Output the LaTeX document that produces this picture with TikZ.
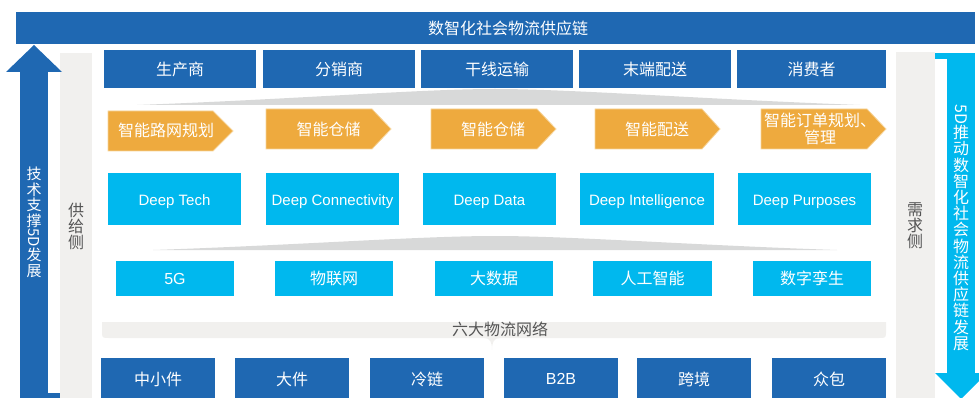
\documentclass[tikz,border=0pt]{standalone}
\usepackage{fontspec}
\setmainfont{Liberation Sans}
\newfontfamily\cjk{Noto Sans CJK SC}
\usepackage{graphicx}
\definecolor{dblue}{HTML}{1F68B2}
\definecolor{lblue}{HTML}{00B8EE}
\definecolor{orng}{HTML}{EEAA3E}
\definecolor{orngline}{HTML}{F6D49A}
\definecolor{panel}{HTML}{F1F0EE}
\definecolor{band}{HTML}{D8D9D9}
\definecolor{gtext}{HTML}{555555}
\tikzset{
  dbox/.style={fill=dblue, text=white, inner sep=0, font=\cjk\fontsize{16}{18}\selectfont},
  lbox/.style={fill=lblue, text=white, inner sep=0, font=\cjk\fontsize{16}{18}\selectfont},
  deepbox/.style={fill=lblue, text=white, inner sep=0, minimum width=133, minimum height=52, font=\fontsize{15}{17}\selectfont},
  otext/.style={text=white, inner sep=0, align=center, font=\cjk\fontsize{16}{17}\selectfont},
  chev/.style={fill=orng, draw=orngline, line width=0.8},
  vtext/.style={inner sep=0, align=center},
  sidetext/.style={text=gtext, inner sep=0, align=center, font=\cjk\fontsize{16}{16}\selectfont},
}
\begin{document}
\begin{tikzpicture}[x=1pt,y=-1pt]
\useasboundingbox (0,0) rectangle (979,398);
\clip (0,0) rectangle (979,398);

% top banner
\fill[dblue] (16,12) rectangle (975,44);
\node[text=white, inner sep=0, font=\cjk\fontsize{16}{18}\selectfont] (title) at (508,28) {数智化社会物流供应链};

% side panels
\fill[panel] (60,53) rectangle (92,398);
\fill[panel] (896,52) rectangle (935,398);
\node[sidetext] (supply) at (76,226) {供\\给\\侧};
\node[sidetext] (demand) at (915,225.5) {需\\求\\侧};

% left up arrow
\fill[dblue] (20,72) rectangle (48,398);
\fill[dblue] (48,393) rectangle (60,398);
\fill[dblue] (6,72) -- (34,45) -- (62,72) -- cycle;
\node[vtext, text=white, font=\cjk\fontsize{15}{15.5}\selectfont] (ltext) at (34,222.5)
  {技\\术\\支\\撑\\\rotatebox[origin=c]{-90}{5D}\\发\\展};

% right down arrow
\fill[lblue] (947,53) rectangle (975,373);
\fill[lblue] (935,53) rectangle (947,59);
\fill[lblue] (935,373) -- (987,373) -- (961,399) -- cycle;
\node[vtext, text=white, font=\cjk\fontsize{16}{16.2}\selectfont] (rtext) at (961,227.5)
  {\rotatebox[origin=c]{-90}{5D}\\推\\动\\数\\智\\化\\社\\会\\物\\流\\供\\应\\链\\发\\展};

% top row
\node[dbox, minimum width=152, minimum height=38] (p1) at (180,69) {生产商};
\node[dbox, minimum width=152, minimum height=38] (p2) at (339,69) {分销商};
\node[dbox, minimum width=152, minimum height=38] (p3) at (497,69) {干线运输};
\node[dbox, minimum width=152, minimum height=38] (p4) at (655,69) {末端配送};
\node[dbox, minimum width=149, minimum height=38] (p5) at (811.5,69) {消费者};

% gray band 1
\fill[band] (137,105) .. controls (300,99) and (420,89) .. (495,89)
  .. controls (570,89) and (700,99) .. (860,105) -- cycle;

% orange chevrons
\fill[chev] (108,111) -- (213,111) -- (233,131) -- (213,151) -- (108,151) -- cycle;
\fill[chev] (266,109) -- (372,109) -- (391,129) -- (372,149) -- (266,149) -- cycle;
\fill[chev] (431,109) -- (537,109) -- (556,129) -- (537,149) -- (431,149) -- cycle;
\fill[chev] (595,109) -- (702,109) -- (720,129) -- (702,149) -- (595,149) -- cycle;
\fill[chev] (761,109) -- (867,109) -- (886,129) -- (867,149) -- (761,149) -- cycle;
\node[otext] (o1) at (166,130) {智能路网规划};
\node[otext] (o2) at (328.5,129) {智能仓储};
\node[otext] (o3) at (493,129) {智能仓储};
\node[otext] (o4) at (657,129) {智能配送};
\node[otext] (o5) at (820,128.5) {智能订单规划、\\管理};

% deep boxes
\fill[lblue] (108,173) rectangle (241,225);
\fill[lblue] (266,173) rectangle (399,225);
\fill[lblue] (423,173) rectangle (556,225);
\fill[lblue] (580,173) rectangle (714,225);
\fill[lblue] (738,173) rectangle (871,225);
\node[text=white, inner sep=0, font=\fontsize{15}{17}\selectfont, anchor=base] (d1) at (174.5,205) {Deep Tech};
\node[text=white, inner sep=0, font=\fontsize{15}{17}\selectfont, anchor=base] (d2) at (332.5,205) {Deep Connectivity};
\node[text=white, inner sep=0, font=\fontsize{15}{17}\selectfont, anchor=base] (d3) at (489.5,205) {Deep Data};
\node[text=white, inner sep=0, font=\fontsize{15}{17}\selectfont, anchor=base] (d4) at (647,205) {Deep Intelligence};
\node[text=white, inner sep=0, font=\fontsize{15}{17}\selectfont, anchor=base] (d5) at (804.5,205) {Deep Purposes};

% gray band 2
\fill[band] (153,250) .. controls (300,245) and (420,236) .. (495,236)
  .. controls (570,236) and (690,245) .. (837,250) -- cycle;

% tech row
\node[lbox, minimum width=118, minimum height=35] (t1) at (175,278.5) {\fontspec{Liberation Sans}5G};
\node[lbox, minimum width=118, minimum height=35] (t2) at (334,278.5) {物联网};
\node[lbox, minimum width=118, minimum height=35] (t3) at (494,278.5) {大数据};
\node[lbox, minimum width=119, minimum height=35] (t4) at (652.5,278.5) {人工智能};
\node[lbox, minimum width=118, minimum height=35] (t5) at (812,278.5) {数字孪生};

% six networks strip
\fill[panel] (102,322) -- (886,322) -- (886,331) .. controls (886,338) and (886,338) .. (879,338)
  -- (109,338) .. controls (102,338) and (102,338) .. (102,331) -- cycle;
\fill[panel] (484,338) .. controls (490,338) and (492,342) .. (492,350)
  .. controls (492,342) and (494,338) .. (500,338) -- cycle;
\node[text=gtext, inner sep=0, font=\cjk\fontsize{16}{18}\selectfont] (six) at (500,329) {六大物流网络};

% bottom row
\node[dbox, minimum width=114, minimum height=42] (b1) at (158,379) {中小件};
\node[dbox, minimum width=114, minimum height=42] (b2) at (292,379) {大件};
\node[dbox, minimum width=114, minimum height=42] (b3) at (427,379) {冷链};
\node[dbox, minimum width=114, minimum height=42] (b4) at (561,379) {\fontspec{Liberation Sans}B2B};
\node[dbox, minimum width=114, minimum height=42] (b5) at (694,379) {跨境};
\node[dbox, minimum width=114, minimum height=42] (b6) at (829,379) {众包};
\end{tikzpicture}
\end{document}
